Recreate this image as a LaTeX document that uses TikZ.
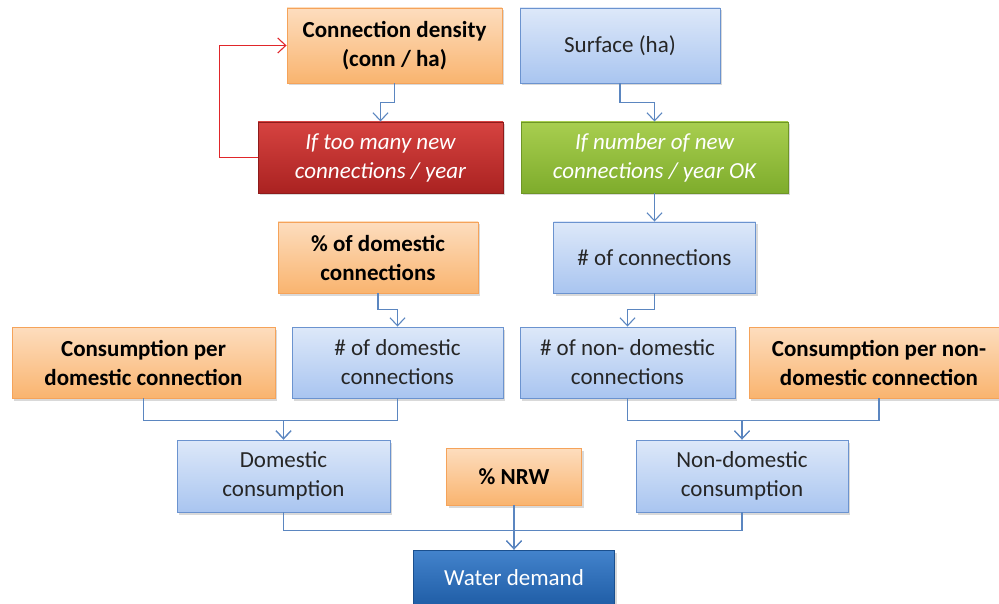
\documentclass[tikz,border=0pt]{standalone}
\usepackage{fontspec}
\setmainfont{Carlito}
\usetikzlibrary{arrows.meta,positioning,shadows,calc}
\definecolor{orgtop}{HTML}{FDDDBE}
\definecolor{orgbot}{HTML}{F9B46F}
\definecolor{orgrule}{HTML}{F5A35A}
\definecolor{blutop}{HTML}{DDE8F9}
\definecolor{blubot}{HTML}{A9C5F0}
\definecolor{blurule}{HTML}{6B93CF}
\definecolor{redtop}{HTML}{D64340}
\definecolor{redbot}{HTML}{AA2221}
\definecolor{redrule}{HTML}{8E1B1B}
\definecolor{grntop}{HTML}{A8CE4F}
\definecolor{grnbot}{HTML}{7EAC2C}
\definecolor{grnrule}{HTML}{6E9626}
\definecolor{wdtop}{HTML}{4383CC}
\definecolor{wdbot}{HTML}{1F5DA6}
\definecolor{wdrule}{HTML}{1A4F8E}
\definecolor{linkcol}{HTML}{5B86C0}
\definecolor{fbred}{HTML}{E0262A}

\begin{document}
\begin{tikzpicture}[
  x=1pt, y=-1pt,
  font=\fontsize{23}{29}\selectfont,
  box/.style={draw, align=center, inner sep=2pt, line width=0.9pt,
              minimum height=71pt,
              drop shadow={opacity=0.3, shadow xshift=2pt, shadow yshift=-2.5pt}},
  input/.style={box, top color=orgtop, bottom color=orgbot, draw=orgrule,
                font=\fontsize{23}{29}\selectfont\bfseries},
  calc/.style={box, top color=blutop, bottom color=blubot, draw=blurule,
               text=black!85},
  stop/.style={box, top color=redtop, bottom color=redbot, draw=redrule,
               text=white, font=\fontsize{23}{29}\selectfont\itshape},
  go/.style={box, top color=grntop, bottom color=grnbot, draw=grnrule,
             text=white, font=\fontsize{23}{29}\selectfont\itshape},
  result/.style={box, top color=wdtop, bottom color=wdbot, draw=wdrule,
                 text=white},
  flow/.style={draw=linkcol, line width=1.1pt,
               -{Straight Barb[length=8pt, width=15pt]}},
  feedback/.style={draw=fbred, line width=1.1pt,
                   -{Straight Barb[length=8pt, width=15pt]}},
]
\useasboundingbox (0,0) rectangle (999,604);

% inputs and first check
\node[input, minimum width=215pt, minimum height=75pt] (density) at (394.5,45.5)
  {Connection density\\(conn / ha)};
\node[calc, minimum width=200pt, minimum height=75pt] (surface) at (620,45.5)
  {Surface (ha)};
\node[stop, minimum width=245pt] (toomany) at (380.5,157.5)
  {If too many new\\connections / year};
\node[go, minimum width=267pt] (newok) at (654.5,157.5)
  {If number of new\\connections / year OK};

% connections split
\node[input, minimum width=200pt] (pctdom) at (378,257.5)
  {\% of domestic\\connections};
\node[calc, minimum width=202pt] (nconn) at (654.5,257.5)
  {\# of connections};
\node[input, minimum width=263pt] (cpdom) at (143.5,362.5)
  {Consumption per\\domestic connection};
\node[calc, minimum width=211pt] (ndom) at (397.5,362.5)
  {\# of domestic\\connections};
\node[calc, minimum width=215pt] (nnondom) at (627.5,362.5)
  {\# of non- domestic\\connections};
\node[input, minimum width=260pt] (cpnondom) at (879,362.5)
  {Consumption per non-\\domestic connection};

% consumption and demand
\node[calc, minimum width=213pt, minimum height=72pt] (domcons) at (283.5,476)
  {Domestic\\consumption};
\node[input, minimum width=135pt, minimum height=57pt] (nrw) at (514,476.5)
  {\% NRW};
\node[calc, minimum width=212pt, minimum height=72pt] (nondomcons) at (742,476)
  {Non-domestic\\consumption};
\node[result, minimum width=201pt, minimum height=56pt] (demand) at (514,578)
  {Water demand};

\draw[flow] (density.south) -- ++(0,19) -| (toomany.north);
\draw[flow] (surface.south) -- ++(0,19) -| (newok.north);
\draw[feedback] (toomany.west) -- ++(-38,0) |- (density.west);
\draw[flow] (newok.south) -- (nconn.north);

\draw[flow] (pctdom.south) -- ++(0,16) -| (ndom.north);
\draw[flow] (nconn.south) -- ++(0,16) -| (nnondom.north);

\draw[flow] (cpdom.south) -- ++(0,22) -| (domcons.north);
\draw[flow] (ndom.south) -- ++(0,22) -| (domcons.north);
\draw[flow] (nnondom.south) -- ++(0,22) -| (nondomcons.north);
\draw[flow] (cpnondom.south) -- ++(0,22) -| (nondomcons.north);

\draw[flow] (domcons.south) -- ++(0,18) -| (demand.north);
\draw[flow] (nondomcons.south) -- ++(0,18) -| (demand.north);
\draw[flow] (nrw.south) -- (demand.north);

\end{tikzpicture}
\end{document}
